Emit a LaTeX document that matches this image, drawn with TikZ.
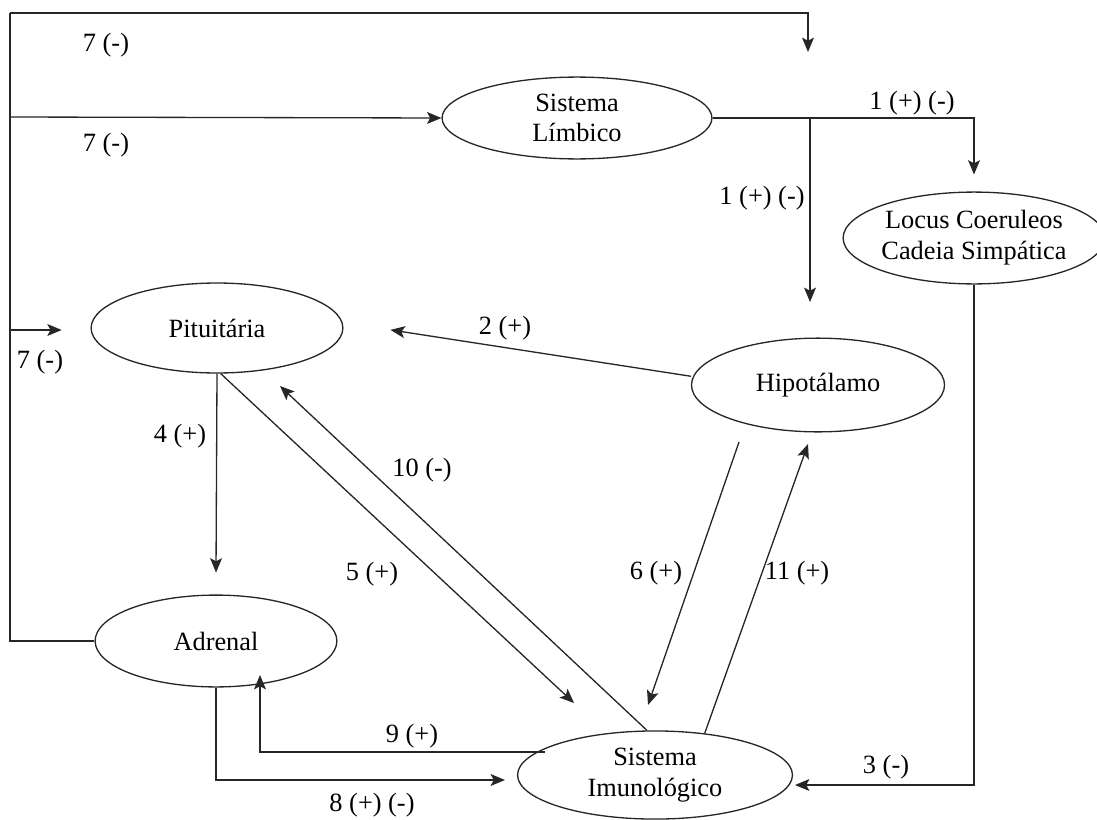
\documentclass[tikz,border=0pt]{standalone}
\usepackage{fontspec}
\setmainfont{Liberation Serif}
\usetikzlibrary{shapes.geometric,arrows.meta,positioning}

\begin{document}
\begin{tikzpicture}[x=0.016cm,y=-0.016cm,inner sep=0pt,font=\fontsize{12}{14}\selectfont]
\tikzstyle{organ}=[ellipse, draw=black!85, line width=0.6pt, align=center]
\tikzstyle{connect}=[-{Stealth[length=2.3mm,width=1.9mm,inset=0.5mm]}, line width=0.6pt, draw=black!85]
\tikzstyle{wire}=[line width=0.6pt, draw=black!85]
\tikzstyle{lbl}=[inner sep=1pt]
\useasboundingbox (0,0) rectangle (1097,819);
% organs
\node[organ,minimum width=4.32cm,minimum height=1.31cm] (lim) at (577,118) {Sistema\\Límbico};
\node[organ,minimum width=3.92cm,minimum height=1.47cm] (loc) at (974,238) {Locus Coeruleos\\Cadeia Simpática};
\node[organ,minimum width=4.03cm,minimum height=1.44cm] (pit) at (217,328) {Pituitária};
\node[organ,minimum width=4.05cm,minimum height=1.50cm] (hip) at (818,385) {Hipotálamo};
\node[organ,minimum width=3.87cm,minimum height=1.47cm] (adr) at (216,641) {Adrenal};
\node[organ,minimum width=4.40cm,minimum height=1.41cm] (imu) at (655,775) {Sistema\\Imunológico};
% free ends and corners
\coordinate (top7) at (10,13);
\coordinate (end7) at (808,52);
\coordinate (br7a) at (10,117);
\coordinate (br7b) at (10,330);
\coordinate (br1) at (810,117);
\coordinate (end1) at (810,302);
\coordinate (end5) at (574,703);
\coordinate (end10) at (280,386);
\coordinate (beg6) at (739,442);
\coordinate (end6) at (648,705);
\coordinate (end11) at (808,444);
\coordinate (end3) at (795,785);
\coordinate (beg9) at (545,752);
\coordinate (end9) at (260,675);
\coordinate (end8) at (505,780);
% connectors
\draw[wire] (adr.west) -| (top7);
\draw[connect] (top7) -| (end7);
\draw[connect] (br7a) -- (lim.west);
\draw[connect] (br7b) -- ([xshift=-0.46cm]pit.west |- br7b);
\draw[connect] (lim.east) -| ([yshift=0.27cm]loc.north);
\draw[connect] (br1) -- (end1);
\draw[connect] ([yshift=0.14cm]hip.west) -- ([xshift=0.75cm,yshift=-0.03cm]pit.east);
\draw[connect] (pit.south) -- ([yshift=0.35cm]adr.north);
\draw[connect] ([xshift=0.06cm]pit.south) -- (end5);
\draw[connect] ([xshift=-0.13cm]imu.north) -- (end10);
\draw[connect] (beg6) -- (end6);
\draw[connect] (imu.40) -- (end11);
\draw[connect] (loc.south) |- (end3);
\draw[connect] (beg9) -| (end9);
\draw[connect] (adr.south) |- (end8);
% labels
\node[lbl] (l7a) at (106,45) {7 (-)};
\node[lbl] (l7b) at (106,145) {7 (-)};
\node[lbl] (l7c) at (40,362) {7 (-)};
\node[lbl] (l1a) at (912,103) {1 (+) (-)};
\node[lbl] (l1b) at (762,198) {1 (+) (-)};
\node[lbl] (l2) at (505,328) {2 (+)};
\node[lbl] (l4) at (180,436) {4 (+)};
\node[lbl] (l10) at (422,470) {10 (-)};
\node[lbl] (l5) at (372,574) {5 (+)};
\node[lbl] (l6) at (656,573) {6 (+)};
\node[lbl] (l11) at (797,573) {11 (+)};
\node[lbl] (l9) at (412,736) {9 (+)};
\node[lbl] (l8) at (372,805) {8 (+) (-)};
\node[lbl] (l3) at (886,767) {3 (-)};
\end{tikzpicture}
\end{document}
